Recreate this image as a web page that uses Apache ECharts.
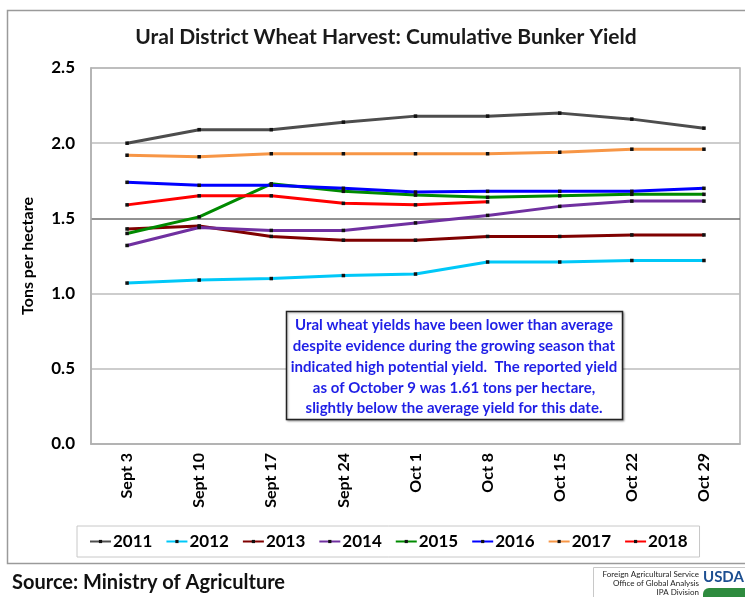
<!DOCTYPE html>
<html>
<head>
<meta charset="utf-8">
<script src="https://cdn.jsdelivr.net/npm/echarts@6/dist/echarts.min.js"></script>
<style>
  html, body { margin: 0; padding: 0; background: #fff; }
  #chart { width: 745px; height: 597px; }
</style>
</head>
<body>
<div id="chart"></div>
<script>
// harvest dates (category axis)
const dates = ["Sept 3", "Sept 10", "Sept 17", "Sept 24", "Oct 1", "Oct 8", "Oct 15", "Oct 22", "Oct 29"];
const years = ["2011", "2012", "2013", "2014", "2015", "2016", "2017", "2018"];

// cumulative bunker yield, tons per hectare
const y2011 = [2.00, 2.09, 2.09, 2.14, 2.18, 2.18, 2.20, 2.16, 2.10];
const y2012 = [1.07, 1.09, 1.10, 1.12, 1.13, 1.21, 1.21, 1.22, 1.22];
const y2013 = [1.43, 1.45, 1.38, 1.355, 1.355, 1.38, 1.38, 1.39, 1.39];
const y2014 = [1.32, 1.44, 1.42, 1.42, 1.47, 1.52, 1.58, 1.615, 1.615];
const y2015 = [1.40, 1.51, 1.73, 1.68, 1.655, 1.64, 1.65, 1.66, 1.66];
const y2016 = [1.74, 1.72, 1.72, 1.70, 1.675, 1.68, 1.68, 1.68, 1.70];
const y2017 = [1.92, 1.91, 1.93, 1.93, 1.93, 1.93, 1.94, 1.96, 1.96];
const y2018 = [1.59, 1.65, 1.65, 1.60, 1.59, 1.61];

const yTicks = [0, 0.5, 1.0, 1.5, 2.0, 2.5];

const seriesData = [y2011, y2012, y2013, y2014, y2015, y2016, y2017, y2018];
const lineColors = ["#4d4d4d", "#00c8f8", "#7f0000", "#7030a0", "#008a00", "#0000ff", "#f79646", "#ff0000"];

const font = "Lato, 'Open Sans', sans-serif";

const chart = echarts.init(document.getElementById("chart"), null, { renderer: "canvas" });

const option = {
  animation: false,
  backgroundColor: "#fff",
  title: {
    text: "Ural District Wheat Harvest: Cumulative Bunker Yield",
    left: 381,
    textAlign: "center",
    top: 22,
    textStyle: { fontFamily: font, fontSize: 21, fontWeight: "bold", color: "#1a1a1a" }
  },
  grid: {
    left: 91, right: 5, top: 68, bottom: 153,
    show: true, borderColor: "#b0b0b0", borderWidth: 1.5
  },
  legend: {
    data: years,
    left: 77,
    top: 526,
    width: 700,
    backgroundColor: "#fff",
    borderColor: "#c8c8c8",
    borderWidth: 1,
    padding: [7, 12, 7, 12],
    itemGap: 13,
    itemWidth: 21,
    itemHeight: 4,
    textStyle: { fontFamily: font, fontSize: 17, fontWeight: "bold", color: "#000", padding: [0, 0, 0, -3] }
  },
  xAxis: {
    type: "category",
    data: dates,
    boundaryGap: true,
    axisLine: { show: true, lineStyle: { color: "#b0b0b0", width: 1.5 } },
    axisTick: { show: false },
    axisLabel: {
      rotate: 90, margin: 9, color: "#000",
      fontFamily: font, fontSize: 16, fontWeight: "bold"
    }
  },
  yAxis: {
    type: "value",
    min: 0, max: 2.5, interval: 0.5,
    name: "Tons per hectare",
    nameLocation: "middle",
    nameGap: 55,
    nameTextStyle: { fontFamily: font, fontSize: 16, fontWeight: "bold", color: "#000" },
    axisLine: { show: true, lineStyle: { color: "#b0b0b0", width: 1.5 } },
    axisTick: { show: false },
    axisLabel: {
      margin: 16, color: "#000",
      fontFamily: font, fontSize: 17, fontWeight: "bold",
      formatter: v => (yTicks.includes(v) ? v.toFixed(1) : "")
    },
    splitLine: {
      show: true,
      lineStyle: { color: ["#bdbdbd", "#bdbdbd", "#bdbdbd", "#6e6e6e", "#bdbdbd", "#bdbdbd"], width: 1.5 }
    }
  },
  series: years.map((yr, i) => ({
    name: yr,
    type: "line",
    data: seriesData[i],
    symbol: "rect",
    symbolSize: 3.5,
    showSymbol: true,
    lineStyle: { color: lineColors[i], width: 3 },
    itemStyle: { color: "#111" },
    emphasis: { disabled: true }
  })),
  graphic: [
    {
      type: "rect",
      z: -1,
      shape: { x: 7.5, y: 10.5, width: 760, height: 553 },
      style: { fill: "none", stroke: "#9a9a9a", lineWidth: 1.5 }
    },
    {
      type: "rect",
      z: 10,
      shape: { x: 286.5, y: 311.5, width: 336, height: 108 },
      style: { fill: "#fff", stroke: "#222", lineWidth: 1.5, shadowBlur: 2, shadowColor: "rgba(0,0,0,0.3)", shadowOffsetX: 1, shadowOffsetY: 1 }
    },
    {
      type: "text",
      z: 11,
      x: 454, y: 315,
      style: {
        text: "Ural wheat yields have been lower than average\ndespite evidence during the growing season that\nindicated high potential yield.  The reported yield\nas of October 9 was 1.61 tons per hectare,\nslightly below the average yield for this date.",
        align: "center",
        verticalAlign: "top",
        lineHeight: 20.8,
        fill: "#1f1fe6",
        font: "bold 15px " + font
      }
    },
    {
      type: "text",
      x: 12, y: 573,
      style: { text: "Source: Ministry of Agriculture", fill: "#111", font: "bold 20px " + font }
    },
    {
      type: "rect",
      shape: { x: 593.5, y: 567.5, width: 160, height: 40 },
      style: { fill: "#fff", stroke: "#c8c8c8", lineWidth: 1 }
    },
    {
      type: "text",
      x: 699, y: 570,
      style: {
        text: "Foreign Agricultural Service\nOffice of Global Analysis\nIPA Division",
        align: "right",
        lineHeight: 9,
        fill: "#222",
        font: "8px " + font
      }
    },
    {
      type: "text",
      x: 703, y: 570,
      style: { text: "USDA", fill: "#1d4f91", font: "bold 15px " + font }
    },
    {
      type: "rect",
      shape: { x: 703, y: 588, width: 45, height: 9, r: [6, 0, 0, 0] },
      style: { fill: "#2e8b3e" }
    }
  ]
};

chart.setOption(option);
</script>
</body>
</html>
